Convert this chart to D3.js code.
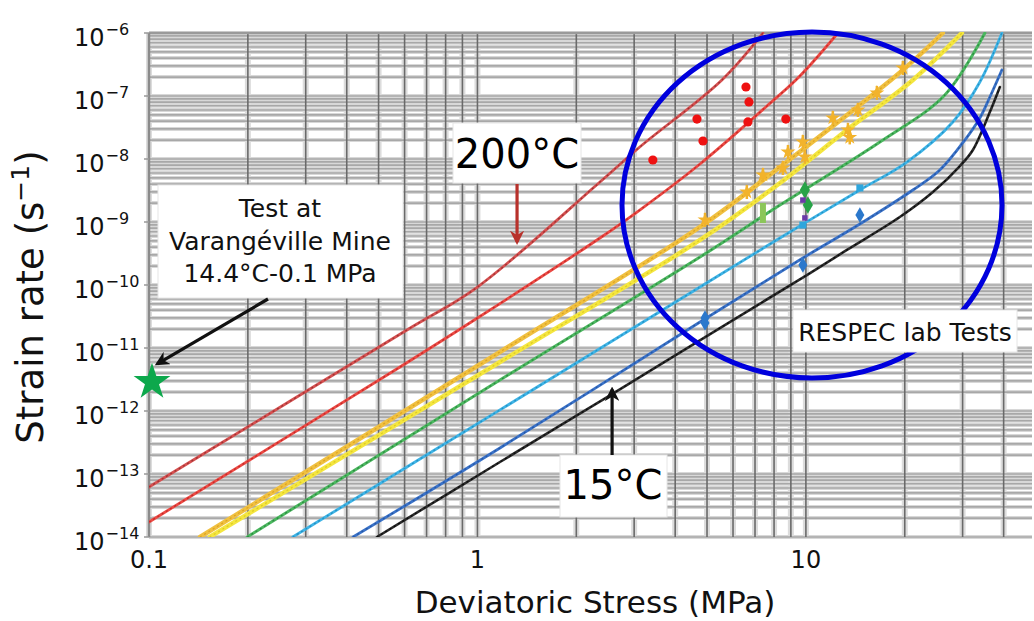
<!DOCTYPE html>
<html><head><meta charset="utf-8">
<script src="https://cdn.jsdelivr.net/npm/d3@7"></script>
<style>
html,body{margin:0;padding:0;background:#fff;}
svg{display:block;font-family:"DejaVu Sans",sans-serif;}
</style></head>
<body><svg id="chart" width="1034" height="621"></svg>
<script>
// ---------------- data ----------------
const xDomain = [0.1, 48.8];
const yDomain = [1e-14, 1e-6];
const xTickValues = [0.1, 1, 10];
const xTickLabels = ["0.1", "1", "10"];
const yTickExponents = [-6, -7, -8, -9, -10, -11, -12, -13, -14];

// model curves [stress MPa, strain rate 1/s]
const curve200a = [[0.1,6.22e-14],[0.610,1.93e-11],[1.00,9.29e-11],[2.36,4.31e-9],[3.12,1.55e-8],[5.55,1.80e-7],[7.40,1e-6]];
const curve200b = [[0.1,1.73e-14],[0.581,4.99e-12],[1.00,2.99e-11],[2.36,5.57e-10],[3.12,1.55e-9],[4.76,8.34e-9],[7.61,6.94e-8],[9.59,2.08e-7],[12.52,1e-6]];
const curveOrange = [[0.143,1e-14],[1.171,8.65e-12],[4.76,8.34e-10],[8.34,7.47e-9],[19.74,2.59e-7],[26.12,1e-6]];
const curveYellow = [[0.153,1e-14],[1.171,6.00e-12],[4.76,5.18e-10],[8.34,4.16e-9],[13.33,2.89e-8],[21.17,1.80e-7],[29.85,1e-6]];
const curveGreen = [[0.199,1e-14],[1.171,3.10e-12],[4.76,2.78e-10],[8.34,1.86e-9],[16.80,1.86e-8],[26.49,1.04e-7],[35.07,1e-6]];
const curveLightBlue = [[0.274,1e-14],[1.171,1.04e-12],[4.76,9.29e-11],[8.34,5.57e-10],[14.60,3.22e-9],[20.30,8.95e-9],[28.02,3.87e-8],[33.86,1.67e-7],[39.51,1e-6]];
const curveBlue = [[0.418,1e-14],[1.171,2.59e-13],[4.76,2.59e-11],[9.79,2.68e-10],[14.60,9.29e-10],[21.17,3.22e-9],[25.58,6.69e-9],[30.48,2.0e-8],[33.86,4.48e-8],[36.32,9.64e-8],[39.51,2.59e-7]];
const curve15 = [[0.494,1e-14],[1.171,1.55e-13],[2.57,1.86e-12],[6.00,2.78e-11],[10.07,1.44e-10],[13.33,3.60e-10],[19.32,1.20e-9],[24.36,2.99e-9],[29.43,7.74e-9],[32.24,1.39e-8],[36.32,5.57e-8],[38.96,1.39e-7]];

// lab test points
const redPts = [[3.42,9.64e-9],[4.66,4.31e-8],[4.86,1.93e-8],[6.57,1.39e-7],[6.71,8.04e-8],[6.66,3.87e-8],[8.69,4.31e-8]];
const orangePts = [[4.93,1.08e-9],[6.61,2.99e-9],[7.40,5.57e-9],[8.51,7.20e-9],[8.82,1.29e-8],[9.79,1.86e-8],[9.93,1.08e-8],[12.08,4.48e-8],[13.43,2.89e-8],[13.6,2.2e-8],[14.40,6.00e-8],[16.45,1.12e-7],[19.74,2.78e-7]];
const lightGreenPts = [[7.40,1.39e-9]];
const greenPts = [[9.93,3.22e-9],[10.14,1.86e-9]];
const purplePts = [[9.79,2.23e-9],[9.93,1.16e-9]];
const lightBluePts = [[9.79,8.95e-10],[14.60,3.47e-9]];
const bluePts = [[14.60,1.29e-9],[9.79,2.08e-10],[4.93,2.99e-11],[4.93,2.49e-11]];
const minePt = [[0.1,2.88e-12]];

// annotation anchors (data coords)
const arrow200Tip = [1.32, 4.8e-10];
const arrow15Tip = [2.57, 2.2e-12];
const arrowMineTip = [0.106, 5.6e-12];

// ---------------- drawing ----------------
const svg = d3.select("#chart");
const L = 149, R = 1032, T = 33, B = 537;
const x = d3.scaleLog().domain(xDomain).range([L, R]);
const y = d3.scaleLog().domain(yDomain).range([B, T]);

const xGrid = [];
for (let k = -1; k <= 1; k++) for (let m = 1; m <= 9; m++) { const v = m * Math.pow(10, k); if (v <= xDomain[1]) xGrid.push(v); }
const yGrid = [];
for (let k = -14; k <= -7; k++) for (let m = 1; m <= 9; m++) yGrid.push(m * Math.pow(10, k));
yGrid.push(1e-6);

const g = svg.append("g");
g.selectAll(".hh").data(yGrid).join("line")
  .attr("x1", L).attr("x2", R).attr("y1", d => y(d)).attr("y2", d => y(d))
  .attr("stroke", "#d8d8d8").attr("stroke-width", 4);
g.selectAll(".vh").data(xGrid).join("line")
  .attr("x1", d => x(d)).attr("x2", d => x(d)).attr("y1", T).attr("y2", B)
  .attr("stroke", "#dcdcdc").attr("stroke-width", 6);
g.selectAll(".hc").data(yGrid).join("line")
  .attr("x1", L).attr("x2", R).attr("y1", d => y(d)).attr("y2", d => y(d))
  .attr("stroke", "#a8a8a8").attr("stroke-width", 1.7);
g.selectAll(".vc").data(xGrid).join("line")
  .attr("x1", d => x(d)).attr("x2", d => x(d)).attr("y1", T).attr("y2", B)
  .attr("stroke", "#6a6a6a").attr("stroke-width", 1.6);
g.append("line").attr("x1", L).attr("x2", R).attr("y1", T).attr("y2", T).attr("stroke", "#9a9a9a").attr("stroke-width", 2.5);
g.append("line").attr("x1", L).attr("x2", L).attr("y1", T).attr("y2", B).attr("stroke", "#8a8a8a").attr("stroke-width", 2.5);

g.selectAll(".yt").data(yTickExponents).join("line")
  .attr("x1", L - 5).attr("x2", L).attr("y1", d => y(Math.pow(10, d))).attr("y2", d => y(Math.pow(10, d)))
  .attr("stroke", "#999").attr("stroke-width", 1.5);

svg.append("clipPath").attr("id", "clip").append("rect").attr("x", L).attr("y", T - 1).attr("width", R - L).attr("height", B - T + 1);
const plot = svg.append("g").attr("clip-path", "url(#clip)");

const line = d3.line().x(d => x(d[0])).y(d => y(d[1])).curve(d3.curveCatmullRom.alpha(0.5));
const curves = [
  {d: curve15, c: "#2a2a2a", dot: "#000", w: 2.6},
  {d: curveBlue, c: "#3a72c8", dot: "#1f4f9a", w: 2.8},
  {d: curveLightBlue, c: "#3fb4e6", dot: "#1b86b8", w: 2.8},
  {d: curveGreen, c: "#4cb860", dot: "#227a35", w: 3},
  {d: curveYellow, c: "#f4e640", dot: "#d8c21a", w: 4.5},
  {d: curveOrange, c: "#f0c040", dot: "#d79a18", w: 4.5},
  {d: curve200b, c: "#ec4a44", dot: "#b42020", w: 2.8},
  {d: curve200a, c: "#d65050", dot: "#8a2a2a", w: 2.8}
];
curves.forEach(cv => {
  plot.append("path").datum(cv.d).attr("d", line).attr("fill", "none")
    .attr("stroke", cv.c).attr("stroke-width", cv.w).attr("stroke-linecap", "round");
  plot.append("path").datum(cv.d).attr("d", line).attr("fill", "none")
    .attr("stroke", cv.dot).attr("stroke-width", 1.3).attr("stroke-dasharray", "2,3").attr("opacity", 0.75);
});

plot.selectAll(".red").data(redPts).join("circle")
  .attr("cx", d => x(d[0])).attr("cy", d => y(d[1])).attr("r", 4.6).attr("fill", "#ee1111");
const ob = plot.append("g");
ob.selectAll("line").data(orangePts).join("line")
  .attr("x1", d => x(d[0])).attr("x2", d => x(d[0])).attr("y1", d => y(d[1]) - 7).attr("y2", d => y(d[1]) + 7)
  .attr("stroke", "#f0b22a").attr("stroke-width", 2.5);
ob.selectAll("path").data(orangePts).join("path")
  .attr("d", d3.symbol(d3.symbolStar).size(70))
  .attr("transform", d => `translate(${x(d[0])},${y(d[1])})`).attr("fill", "#f2b32c");
plot.selectAll(".lg").data(lightGreenPts).join("rect")
  .attr("x", d => x(d[0]) - 3).attr("y", d => y(d[1]) - 10).attr("width", 6).attr("height", 20).attr("fill", "#8cc65a");
function sym(data, color, type, size) {
  plot.append("g").selectAll("path").data(data).join("path")
    .attr("d", d3.symbol(type).size(size))
    .attr("transform", d => `translate(${x(d[0])},${y(d[1])})`).attr("fill", color);
}
sym(greenPts, "#27a348", d3.symbolDiamond, 90);
sym(purplePts, "#6a3aa8", d3.symbolSquare, 30);
sym(lightBluePts, "#2ea6dd", d3.symbolSquare, 50);
sym(bluePts, "#2b78cc", d3.symbolDiamond, 70);

svg.append("ellipse").attr("cx", 812).attr("cy", 205).attr("rx", 190).attr("ry", 173)
  .attr("fill", "none").attr("stroke", "#0000dd").attr("stroke-width", 5);

svg.selectAll(".star").data(minePt).join("path")
  .attr("d", d3.symbol(d3.symbolStar).size(420))
  .attr("transform", d => `translate(${x(d[0]) + 3},${y(d[1])})`).attr("fill", "#0da84c");

const defs = svg.append("defs");
function arrowHead(id, color) {
  defs.append("marker").attr("id", id).attr("viewBox", "0 0 10 10").attr("refX", 8).attr("refY", 5)
    .attr("markerWidth", 4.5).attr("markerHeight", 4.5).attr("orient", "auto")
    .append("path").attr("d", "M0,0 L10,5 L0,10 L3,5 Z").attr("fill", color);
}
arrowHead("ahRed", "#b8312b");
arrowHead("ahBlack", "#111");

function box(x0, y0, x1, y1) {
  svg.append("rect").attr("x", x0).attr("y", y0).attr("width", x1 - x0).attr("height", y1 - y0)
    .attr("fill", "#fff").attr("stroke", "#e6e6e6").attr("stroke-width", 1);
}
box(158, 185, 403, 298);
const mineLines = ["Test at", "Varangéville Mine", "14.4°C-0.1 MPa"];
svg.append("g").selectAll("text").data(mineLines).join("text")
  .attr("x", 280).attr("y", (d, i) => 217 + i * 32.5).attr("text-anchor", "middle")
  .attr("font-size", 25).attr("fill", "#111").text(d => d);
svg.append("line").attr("x1", 268).attr("y1", 299).attr("x2", x(arrowMineTip[0])).attr("y2", y(arrowMineTip[1]))
  .attr("stroke", "#111").attr("stroke-width", 3.2).attr("marker-end", "url(#ahBlack)");

box(453, 123, 581, 183);
svg.append("text").attr("x", 517).attr("y", 168).attr("text-anchor", "middle").attr("font-size", 40).attr("fill", "#000").text("200°C");
svg.append("line").attr("x1", x(arrow200Tip[0])).attr("y1", 184).attr("x2", x(arrow200Tip[0])).attr("y2", y(arrow200Tip[1]))
  .attr("stroke", "#b8312b").attr("stroke-width", 3.2).attr("marker-end", "url(#ahRed)");

box(560, 455, 667, 517);
svg.append("text").attr("x", 613).attr("y", 499).attr("text-anchor", "middle").attr("font-size", 40).attr("fill", "#000").text("15°C");
svg.append("line").attr("x1", x(arrow15Tip[0])).attr("y1", 455).attr("x2", x(arrow15Tip[0])).attr("y2", y(arrow15Tip[1]))
  .attr("stroke", "#111").attr("stroke-width", 3.2).attr("marker-end", "url(#ahBlack)");

box(793, 310, 1017, 352);
svg.append("text").attr("x", 905).attr("y", 341).attr("text-anchor", "middle").attr("font-size", 25).attr("fill", "#111").text("RESPEC lab Tests");

svg.append("g").selectAll("text").data(xTickValues).join("text")
  .attr("x", d => x(d)).attr("y", 568).attr("text-anchor", "middle").attr("font-size", 24).attr("fill", "#111")
  .text((d, i) => xTickLabels[i]);

const yl = svg.append("g").selectAll("text").data(yTickExponents).join("text")
  .attr("x", 74).attr("y", d => y(Math.pow(10, d)) + 13).attr("font-size", 24).attr("fill", "#111");
yl.append("tspan").text("10");
yl.append("tspan").attr("font-size", 16).attr("dy", -11).attr("dx", 1).text(d => "−" + Math.abs(d));

svg.append("text").attr("x", 595).attr("y", 613).attr("text-anchor", "middle").attr("font-size", 31).attr("fill", "#111")
  .text("Deviatoric Stress (MPa)");
const yt = svg.append("text").attr("transform", "translate(43,297) rotate(-90)").attr("text-anchor", "middle")
  .attr("font-size", 37).attr("fill", "#111");
yt.append("tspan").text("Strain rate (s");
yt.append("tspan").attr("font-size", 25).attr("dy", -14).text("−1");
yt.append("tspan").attr("dy", 14).text(")");
</script></body></html>
